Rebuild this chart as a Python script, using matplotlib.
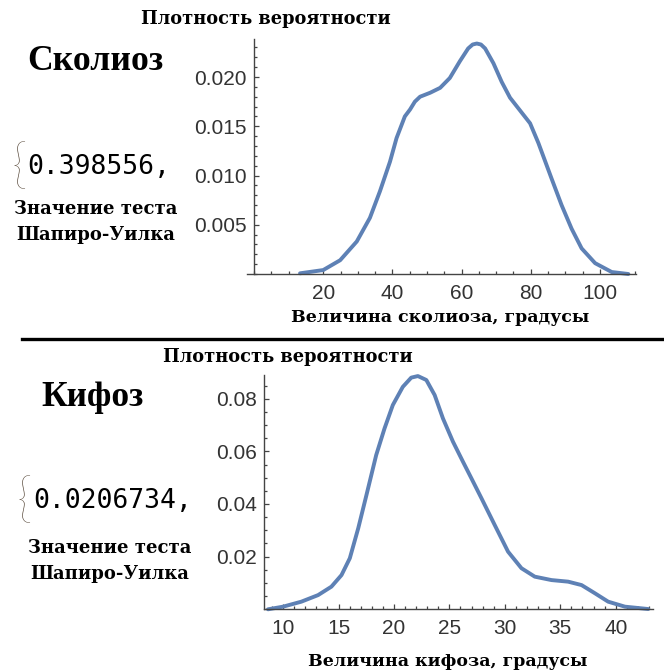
import matplotlib
matplotlib.use("Agg")
import matplotlib.pyplot as plt
from matplotlib.ticker import MultipleLocator, FixedLocator

# ---------------- data ----------------
scol_x = [13.3, 20.0, 24.9, 29.7, 33.5, 36.4, 39.3, 41.2, 43.6, 45.1, 46.5, 48.0,
          50.9, 53.8, 56.6, 59.5, 61.9, 63.2, 64.4, 65.6, 66.8, 69.2, 71.6, 74.0,
          76.9, 79.8, 82.2, 86.0, 88.9, 91.8, 94.7, 98.6, 103.4, 108.2]
scol_y = [0.00007, 0.0004, 0.0014, 0.0033, 0.0057, 0.0084, 0.0114, 0.0138, 0.0160,
          0.0167, 0.0175, 0.0180, 0.0184, 0.0189, 0.0199, 0.0216, 0.0229, 0.0233,
          0.0234, 0.0233, 0.0229, 0.0214, 0.0195, 0.0179, 0.0166, 0.0153, 0.0133,
          0.0097, 0.0070, 0.0046, 0.0026, 0.0011, 0.0002, 0.0]

kyph_x = [8.64, 10.0, 11.65, 13.16, 14.36, 15.27, 16.02, 16.78, 17.52, 18.40, 19.15,
          19.90, 20.80, 21.56, 22.16, 22.92, 23.67, 24.42, 25.32, 26.22, 26.98, 27.89,
          29.09, 30.29, 31.50, 32.70, 34.21, 35.71, 36.92, 38.12, 39.32, 40.83, 42.94]
kyph_y = [0.0, 0.0010, 0.0029, 0.0054, 0.0086, 0.0130, 0.0194, 0.0308, 0.0434, 0.0586,
          0.0687, 0.0776, 0.0845, 0.0880, 0.0886, 0.0871, 0.0814, 0.0725, 0.0637,
          0.0561, 0.0498, 0.0422, 0.0320, 0.0219, 0.0156, 0.0124, 0.0111, 0.0105,
          0.0092, 0.0061, 0.0029, 0.0010, 0.0001]

scol_xticks = [20, 40, 60, 80, 100]
scol_yticks = [0.005, 0.010, 0.015, 0.020]
scol_ylabels = ["0.005", "0.010", "0.015", "0.020"]
kyph_xticks = [10, 15, 20, 25, 30, 35, 40]
kyph_yticks = [0.02, 0.04, 0.06, 0.08]
kyph_ylabels = ["0.02", "0.04", "0.06", "0.08"]

scol_p = "0.398556,"
kyph_p = "0.0206734,"

# ---------------- figure ----------------
W, H = 664, 672
fig = plt.figure(figsize=(W / 100, H / 100), dpi=100)
fig.patch.set_facecolor("white")

LINE = (0.368417, 0.506779, 0.709798)
AX = "#444444"
SERIF = "Liberation Serif"
WSERIF = "DejaVu Serif"
SANS = "Liberation Sans"
MONO = "DejaVu Sans Mono"


def fp(x, y):
    return x / W, 1 - y / H


def style(ax, xmaj, xmin_step, ymaj, ymin_step, ylabels, xspine=None):
    for s in ("top", "right"):
        ax.spines[s].set_visible(False)
    for s in ("left", "bottom"):
        ax.spines[s].set_color(AX)
        ax.spines[s].set_linewidth(1.0)
    if xspine is not None:
        ax.spines["left"].set_position(("data", xspine))
    ax.xaxis.set_major_locator(FixedLocator(xmaj))
    ax.xaxis.set_minor_locator(MultipleLocator(xmin_step))
    ax.yaxis.set_major_locator(FixedLocator(ymaj))
    ax.yaxis.set_minor_locator(MultipleLocator(ymin_step))
    ax.set_yticklabels(ylabels)
    ax.tick_params(which="both", direction="in", color=AX, width=0.9,
                   labelcolor="#333333", labelsize=15)
    ax.tick_params(which="major", length=3.4)
    ax.tick_params(which="minor", length=2.0)
    ax.tick_params(axis="x", pad=7)
    ax.tick_params(axis="y", pad=5)
    for lab in ax.get_xticklabels() + ax.get_yticklabels():
        lab.set_fontfamily(SANS)


# ---- top panel: scoliosis ----
ax1 = fig.add_axes([247.1 / W, 1 - 274 / H, 388.5 / W, 235.4 / H])
ax1.plot(scol_x, scol_y, color=LINE, lw=2.8, solid_capstyle="round",
         solid_joinstyle="round", clip_on=False)
ax1.set_xlim(-2, 110.3)
ax1.set_ylim(0, 0.0239)
style(ax1, scol_xticks, 5, scol_yticks, 0.001, scol_ylabels, xspine=0)

# ---- bottom panel: kyphosis ----
ax2 = fig.add_axes([264.0 / W, 1 - 609.3 / H, 389.4 / W, 234.3 / H])
ax2.plot(kyph_x, kyph_y, color=LINE, lw=2.8, solid_capstyle="round",
         solid_joinstyle="round", clip_on=False)
ax2.set_xlim(8.28, 43.4)
ax2.set_ylim(0, 0.089)
style(ax2, kyph_xticks, 1, kyph_yticks, 0.005, kyph_ylabels)

# ---- texts ----
bold = dict(family=WSERIF, weight="bold", color="black", ha="center", va="center")
fig.text(*fp(266, 19), "Плотность вероятности", fontsize=12.8, **bold)
fig.text(*fp(288, 357), "Плотность вероятности", fontsize=12.8, **bold)
fig.text(*fp(440, 318), "Величина сколиоза, градусы", fontsize=12.5, **bold)
fig.text(*fp(448, 661), "Величина кифоза, градусы", fontsize=12.5, **bold)

big = dict(family=SERIF, weight="bold", color="black", ha="center", va="center")
fig.text(*fp(95, 62), "Сколиоз", fontsize=25.7, **big)
fig.text(*fp(92, 397), "Кифоз", fontsize=25.5, **big)

fig.text(*fp(96, 209), "Значение теста", fontsize=13, **bold)
fig.text(*fp(96, 235), "Шапиро-Уилка", fontsize=13, **bold)
fig.text(*fp(110, 548), "Значение теста", fontsize=13, **bold)
fig.text(*fp(110, 574), "Шапиро-Уилка", fontsize=13, **bold)

fig.text(*fp(19, 168), "{", family="Lato", weight="light", fontsize=38,
         color="#4a3a2a", ha="center", va="center")
fig.text(*fp(24, 502), "{", family="Lato", weight="light", fontsize=38,
         color="#4a3a2a", ha="center", va="center")
fig.text(*fp(27, 167), scol_p, family=MONO, fontsize=19, color="black",
         ha="left", va="center")
fig.text(*fp(33, 501), kyph_p, family=MONO, fontsize=19, color="black",
         ha="left", va="center")

# separator line
fig.add_artist(plt.Line2D([22 / W, 1.0], [1 - 339 / H, 1 - 339 / H],
                          transform=fig.transFigure, color="black", lw=2.4))

fig.savefig("out.png", dpi=100, facecolor="white")
